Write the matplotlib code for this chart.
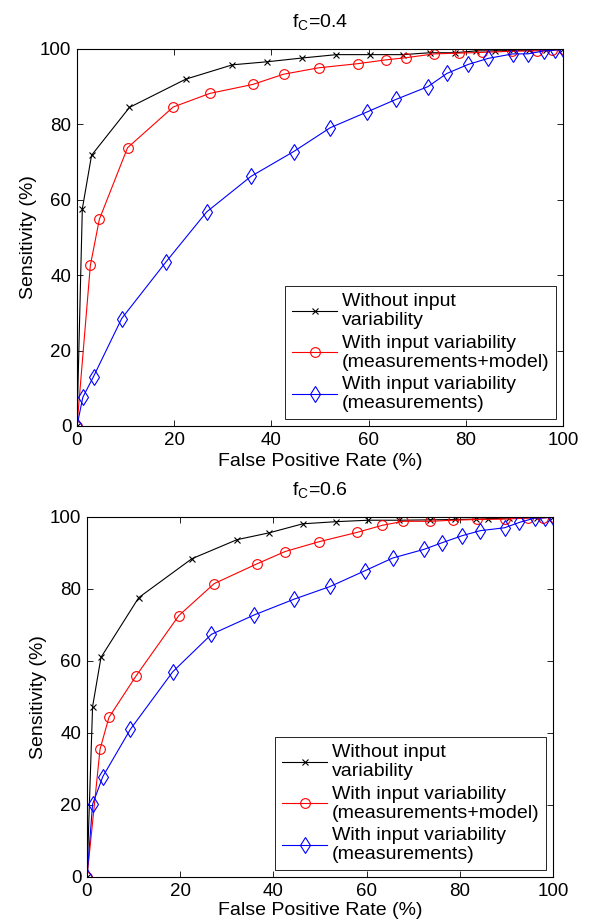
import numpy as np
import matplotlib
matplotlib.use("Agg")
import matplotlib.pyplot as plt

# ------------------------------------------------------
# DATA
# ------------------------------------------------------

LABELS = [
    "Without input\nvariability",
    "With input variability\n(measurements+model)",
    "With input variability\n(measurements)",
]

# f_C = 0.4
fpr_a_none = [0, 1.1, 3.0, 10.8, 22.4, 32.0, 39.1, 46.3, 53.4, 60.2, 67.1, 72.6,
              77.7, 82.2, 86.0, 89.7, 93.0, 96.5, 100]
sens_a_none = [0, 57.6, 71.8, 84.5, 92.0, 95.8, 96.6, 97.6, 98.5, 98.5, 98.5, 99.0,
               99.0, 99.5, 99.5, 99.6, 99.7, 99.8, 100]
fpr_a_full = [0, 2.75, 4.6, 10.4, 19.8, 27.3, 36.2, 42.5, 49.7, 57.8, 63.5, 67.8,
              73.5, 78.6, 83.4, 89.6, 94.7, 97.7, 100]
sens_a_full = [0, 42.6, 54.8, 73.8, 84.6, 88.2, 90.6, 93.3, 95.0, 96.1, 97.1, 97.7,
               98.7, 98.9, 99.1, 99.4, 99.5, 99.6, 100]
fpr_a_meas = [0, 1.2, 3.4, 9.2, 18.3, 26.7, 35.8, 44.6, 52.1, 59.7, 65.6, 72.2,
              76.1, 80.5, 84.6, 89.7, 92.8, 96.1, 98.3, 100]
sens_a_meas = [0, 7.6, 13.1, 28.5, 43.5, 56.8, 66.2, 72.8, 79.1, 83.3, 86.6, 90.0,
               93.5, 95.9, 97.5, 98.7, 98.7, 99.5, 99.7, 100]

# f_C = 0.6
fpr_b_none = [0, 1.2, 3.0, 11.1, 22.5, 32.2, 39.1, 46.3, 53.5, 60.4, 67.0, 73.5,
              79.0, 83.5, 86.0, 90.5, 96.5, 100]
sens_b_none = [0, 47.3, 61.0, 77.6, 88.4, 93.7, 95.6, 98.1, 98.7, 99.1, 99.1, 99.2,
               99.3, 99.4, 99.5, 99.7, 99.8, 100]
fpr_b_full = [0, 2.8, 4.7, 10.5, 19.7, 27.3, 36.5, 42.5, 49.7, 57.9, 63.4, 67.9,
              73.6, 78.6, 83.6, 89.6, 94.7, 97.9, 100]
sens_b_full = [0, 35.5, 44.3, 55.8, 72.6, 81.5, 87.0, 90.4, 93.1, 95.7, 97.7, 98.8,
               98.8, 99.1, 99.3, 99.4, 99.7, 99.7, 100]
fpr_b_meas = [0, 1.2, 3.4, 9.3, 18.4, 26.7, 35.9, 44.5, 52.2, 59.7, 65.6, 72.3,
              76.1, 80.5, 84.4, 89.6, 92.8, 96.1, 98.3, 100]
sens_b_meas = [0, 20.2, 27.9, 41.0, 57.0, 67.4, 72.8, 77.2, 80.7, 85.1, 88.6, 91.0,
               92.8, 94.8, 96.2, 97.0, 98.5, 99.7, 99.8, 100]

TITLES = ["f$_\\mathrm{C}$=0.4", "f$_\\mathrm{C}$=0.6"]

# ------------------------------------------------------
# STYLE
# ------------------------------------------------------

plt.rcParams["font.family"] = ["Liberation Sans", "DejaVu Sans"]
plt.rcParams["mathtext.fontset"] = "custom"
plt.rcParams["mathtext.rm"] = "Liberation Sans"
plt.rcParams["xtick.direction"] = "in"
plt.rcParams["ytick.direction"] = "in"
plt.rcParams["xtick.top"] = True
plt.rcParams["ytick.right"] = True
plt.rcParams["axes.linewidth"] = 0.8

fig = plt.figure(figsize=(5.89, 9.24), dpi=100)
ax_top = fig.add_axes([0.1307, 0.5390, 0.8251, 0.4080])
ax_bot = fig.add_axes([0.1477, 0.0509, 0.7912, 0.3896])

series = [
    [(fpr_a_none, sens_a_none), (fpr_a_full, sens_a_full), (fpr_a_meas, sens_a_meas)],
    [(fpr_b_none, sens_b_none), (fpr_b_full, sens_b_full), (fpr_b_meas, sens_b_meas)],
]
styles = [
    dict(color="black", marker="x", markersize=5, markeredgewidth=0.8),
    dict(color="#ff0000", marker="o", markersize=7, markerfacecolor="none", markeredgewidth=0.8),
    dict(color="#0000ff", marker="d", markersize=8, markerfacecolor="none", markeredgewidth=0.8),
]

for ax, data, title, xpad in zip([ax_top, ax_bot], series, TITLES, [3, 2]):
    for (x, y), st, lab in zip(data, styles, LABELS):
        ax.plot(x, y, linewidth=0.8, label=lab, **st)
    ax.set_xlim(0, 100)
    ax.set_ylim(0, 100)
    ax.set_xticks(np.arange(0, 101, 20))
    ax.set_yticks(np.arange(0, 101, 20))
    ax.tick_params(labelsize=13.5, length=4, width=0.6, pad=4)
    ax.set_xlabel("False Positive Rate (%)", fontsize=14, labelpad=xpad)
    ax.set_ylabel("Sensitivity (%)", fontsize=14, labelpad=2)
    ax.set_title(title, fontsize=14, pad=15)
    leg = ax.legend(loc="lower right", fontsize=14, handlelength=2.3,
                    borderaxespad=0.35, fancybox=False, framealpha=1,
                    labelspacing=0.3, handletextpad=0.25, borderpad=0.35)
    for t in leg.get_texts():
        t.set_linespacing(1.15)
    leg.get_frame().set_edgecolor("black")
    leg.get_frame().set_linewidth(0.6)

fig.savefig("out.png", dpi=100)
